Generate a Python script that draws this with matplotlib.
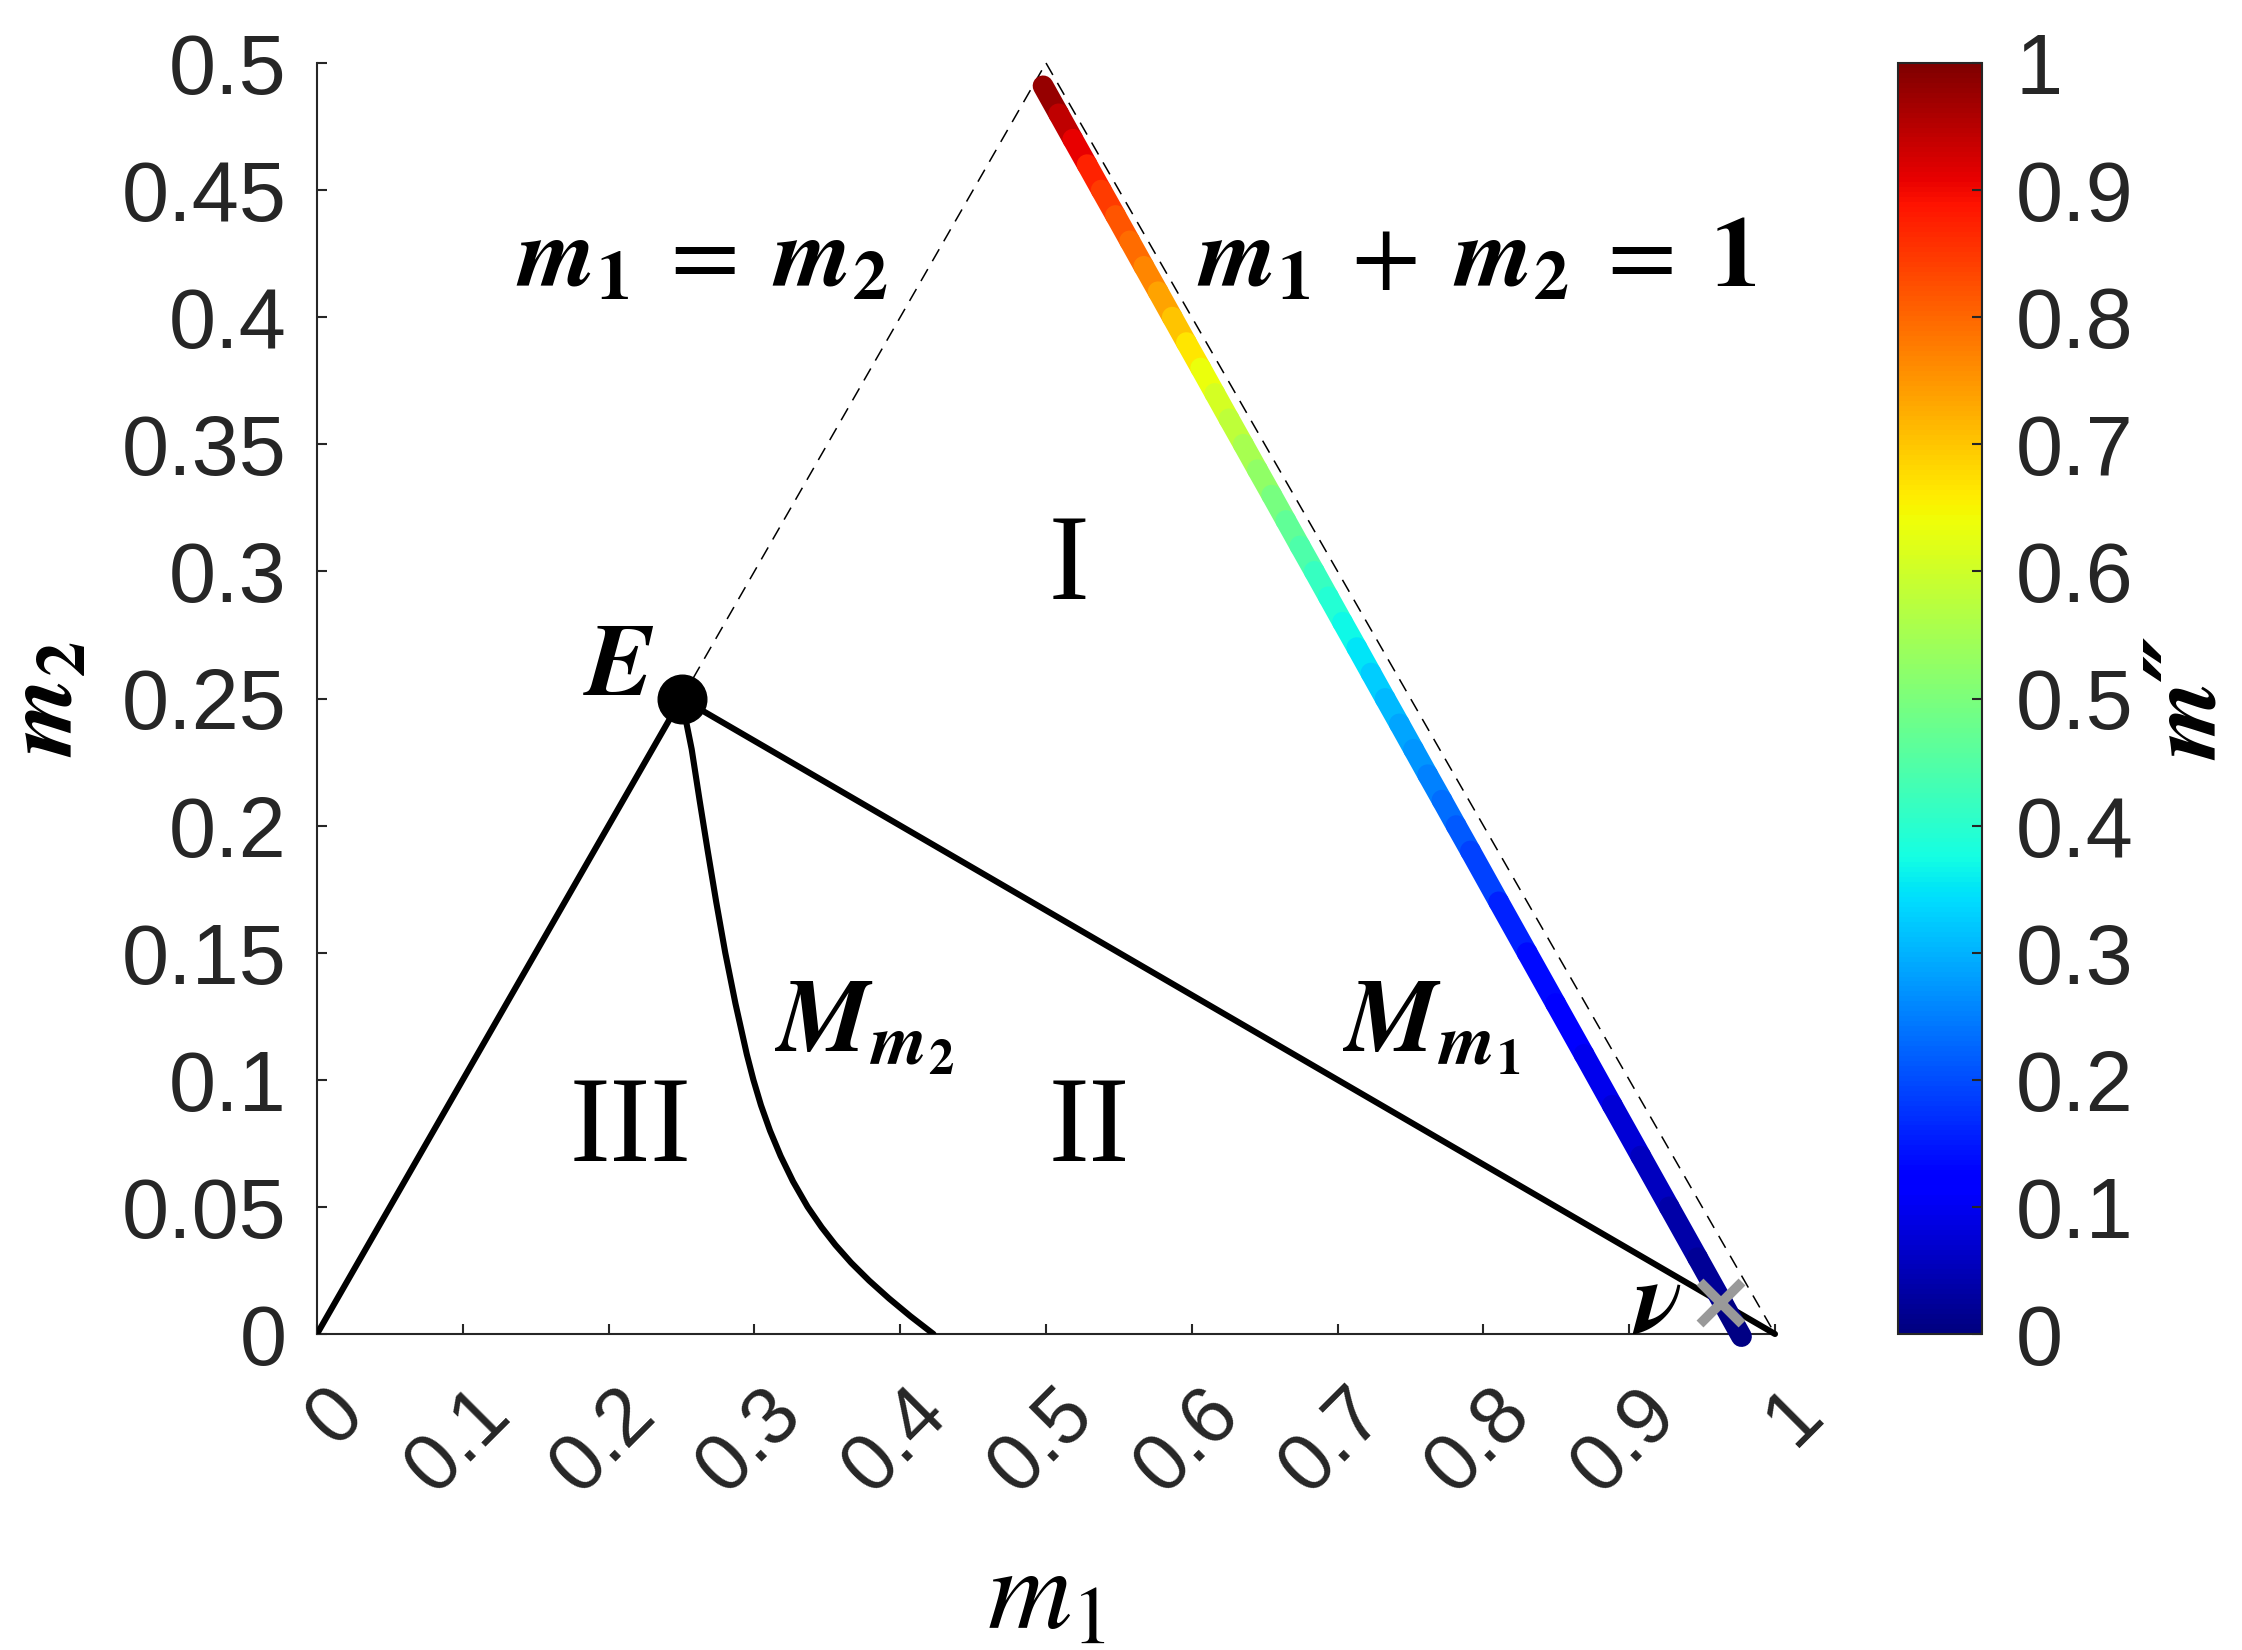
import numpy as np
import matplotlib
matplotlib.use("Agg")
import matplotlib.pyplot as plt
import matplotlib.transforms as mtransforms
from matplotlib.collections import LineCollection
from matplotlib import cm, colors

plt.rcParams['mathtext.fontset'] = 'stix'
plt.rcParams['font.family'] = ['Liberation Sans', 'DejaVu Sans']

# ---------------- data ----------------
x_ticks = [0, 0.1, 0.2, 0.3, 0.4, 0.5, 0.6, 0.7, 0.8, 0.9, 1.0]
x_tick_labels = ['0', '0.1', '0.2', '0.3', '0.4', '0.5', '0.6', '0.7', '0.8', '0.9', '1']
y_ticks = [0, 0.05, 0.1, 0.15, 0.2, 0.25, 0.3, 0.35, 0.4, 0.45, 0.5]
y_tick_labels = ['0', '0.05', '0.1', '0.15', '0.2', '0.25', '0.3', '0.35', '0.4', '0.45', '0.5']
cbar_ticks = [0, 0.1, 0.2, 0.3, 0.4, 0.5, 0.6, 0.7, 0.8, 0.9, 1.0]
cbar_tick_labels = ['0', '0.1', '0.2', '0.3', '0.4', '0.5', '0.6', '0.7', '0.8', '0.9', '1']

# boundary III / I : segment from origin to E
left_m1 = [0.0, 0.25]
left_m2 = [0.0, 0.25]
# M_m1 : segment from E to (1,0)
Mm1_m1 = [0.25, 1.0]
Mm1_m2 = [0.25, 0.0]
# M_m2 : curve from E down to the m1 axis
Mm2_m1 = [0.25, 0.2570, 0.2624, 0.2680, 0.2738, 0.2800, 0.2870, 0.2948, 0.2993,
          0.3045, 0.3107, 0.3180, 0.3265, 0.3365, 0.3461, 0.3556, 0.3664, 0.3787,
          0.3923, 0.4070, 0.4228]
Mm2_m2 = [0.25, 0.23, 0.21, 0.19, 0.17, 0.15, 0.13, 0.11, 0.10,
          0.09, 0.08, 0.07, 0.06, 0.05, 0.042, 0.035, 0.028, 0.021,
          0.014, 0.007, 0.0]
# dashed lines
diag_m1 = [0.25, 0.5]
diag_m2 = [0.25, 0.5]
sum1_m1 = [0.5, 1.0]
sum1_m2 = [0.5, 0.0]
# coloured curve (m1, m2, m'')
curve_m2 = [0.491, 0.48, 0.47, 0.46, 0.45, 0.44, 0.43, 0.42, 0.41, 0.40, 0.39, 0.38,
            0.37, 0.36, 0.35, 0.34, 0.33, 0.32, 0.31, 0.30, 0.29, 0.28, 0.27, 0.26,
            0.25, 0.24, 0.23, 0.22, 0.21, 0.20, 0.19, 0.17, 0.15, 0.13, 0.11, 0.09,
            0.07, 0.05, 0.03, 0.012, -0.001]
curve_m1 = [0.498, 0.5087, 0.5184, 0.5282, 0.5379, 0.5477, 0.5574, 0.5671, 0.5769,
            0.5866, 0.5963, 0.6061, 0.6158, 0.6255, 0.6353, 0.6450, 0.6548, 0.6645,
            0.6742, 0.6840, 0.6937, 0.7034, 0.7132, 0.7229, 0.7326, 0.7424, 0.7521,
            0.7618, 0.7716, 0.7813, 0.7911, 0.8105, 0.8300, 0.8495, 0.8690, 0.8884,
            0.9079, 0.9274, 0.9469, 0.9644, 0.9770]
curve_mpp = [1.0, 0.96, 0.925, 0.89, 0.859, 0.832, 0.806, 0.78, 0.753, 0.718, 0.683,
             0.65, 0.619, 0.592, 0.566, 0.54, 0.51, 0.48, 0.455, 0.43, 0.405, 0.38,
             0.36, 0.337, 0.315, 0.297, 0.28, 0.26, 0.24, 0.222, 0.205, 0.17, 0.145,
             0.122, 0.105, 0.088, 0.067, 0.048, 0.03, 0.012, 0.0]
# special points
E_pt = (0.25, 0.25)
nu_pt = (0.963, 0.0122)

# ---------------- figure ----------------
W, H = 2242, 1650
fig = plt.figure(figsize=(W / 100, H / 100), dpi=100)
ax = fig.add_axes([317 / W, 1 - 1334 / H, (1775 - 317) / W, (1334 - 63) / H])
axcol = '#262626'

ax.set_xlim(0, 1)
ax.set_ylim(0, 0.5)
for s in ['top', 'right']:
    ax.spines[s].set_visible(False)
for s in ['left', 'bottom']:
    ax.spines[s].set_color(axcol)
    ax.spines[s].set_linewidth(1.5)

lw_black = 4.4
ax.plot(left_m1, left_m2, color='black', lw=lw_black, solid_capstyle='round', zorder=3)
ax.plot(Mm1_m1, Mm1_m2, color='black', lw=lw_black, solid_capstyle='round', zorder=3,
        clip_on=False)
ax.plot(Mm2_m1, Mm2_m2, color='black', lw=lw_black, solid_capstyle='round',
        solid_joinstyle='round', zorder=3)
ax.plot(diag_m1, diag_m2, color='black', lw=1.1, dashes=(9, 6), zorder=2, clip_on=False)
ax.plot(sum1_m1, sum1_m2, color='black', lw=1.1, dashes=(9, 6), zorder=2, clip_on=False)

# coloured curve
cmap = matplotlib.colormaps['jet']
norm = colors.Normalize(0, 1)
pts = np.column_stack([curve_m1, curve_m2])
segs = np.stack([pts[:-1], pts[1:]], axis=1)
mid_vals = [(a + b) / 2 for a, b in zip(curve_mpp[:-1], curve_mpp[1:])]
lc = LineCollection(segs, cmap=cmap, norm=norm, linewidths=15, capstyle='round',
                    joinstyle='round', zorder=4, clip_on=False)
lc.set_array(np.array(mid_vals))
ax.add_collection(lc)

# markers
ax.plot([E_pt[0]], [E_pt[1]], 'o', color='black', ms=35, zorder=6, clip_on=False)
ax.plot([nu_pt[0]], [nu_pt[1]], 'x', color='#999999', ms=30, mew=7, zorder=7,
        clip_on=False)

# ticks
ax.set_xticks(x_ticks)
ax.set_xticklabels(x_tick_labels, rotation=45, ha='right', va='top',
                   rotation_mode='anchor')
ax.set_yticks(y_ticks)
ax.set_yticklabels(y_tick_labels)
ax.tick_params(axis='both', direction='in', length=7, width=1.5, colors=axcol,
               labelsize=61, labelcolor=axcol)
ax.tick_params(axis='x', pad=29, labelsize=58)
ax.tick_params(axis='y', pad=22)
off = mtransforms.ScaledTranslation(6 / 72, 0, fig.dpi_scale_trans)
for lbl in ax.get_xticklabels():
    lbl.set_transform(lbl.get_transform() + off)

ax.set_xlabel(r'$m_1$', fontsize=84)
ax.xaxis.set_label_coords(0.5, -0.165)
ax.set_ylabel(r'$\boldsymbol{m}_\mathbf{2}$', fontsize=72, labelpad=20)

# annotations
tk = dict(fontsize=72, color='black', zorder=8)
ax.text(0.2644, 0.412, r'$\boldsymbol{m}_\mathbf{1} \;=\; \boldsymbol{m}_\mathbf{2}$',
        ha='center', va='baseline', **tk)
ax.text(0.7956, 0.412,
        r'$\boldsymbol{m}_\mathbf{1} \;+\; \boldsymbol{m}_\mathbf{2} \;=\; \mathbf{1}$',
        ha='center', va='baseline', **tk)
tm = dict(fontsize=74, color='black', zorder=8)
ax.text(0.314, 0.111, r'$\boldsymbol{M}_{\boldsymbol{m}_\mathbf{2}}$',
        ha='left', va='baseline', **tm)
ax.text(0.704, 0.111, r'$\boldsymbol{M}_{\boldsymbol{m}_\mathbf{1}}$',
        ha='left', va='baseline', **tm)
ax.text(0.2068, 0.2514, r'$\boldsymbol{E}$', ha='center', va='baseline', **tm)
ax.text(0.919, 0.0004, r'$\boldsymbol{\nu}$', ha='center', va='baseline', **tm)

rk = dict(fontsize=88, color='black', family='Liberation Serif', zorder=8)
ax.text(0.516, 0.289, 'I', ha='center', va='baseline', **rk)
ax.text(0.5295, 0.068, 'II', ha='center', va='baseline', **rk)
ax.text(0.2154, 0.068, 'III', ha='center', va='baseline', **rk)

# colorbar
cax = fig.add_axes([1898 / W, 1 - 1334 / H, (1982 - 1898) / W, (1334 - 63) / H])
sm = cm.ScalarMappable(norm=norm, cmap=cmap)
cb = fig.colorbar(sm, cax=cax)
cb.set_ticks(cbar_ticks)
cb.set_ticklabels(cbar_tick_labels)
cb.outline.set_edgecolor(axcol)
cb.outline.set_linewidth(1.5)
cax.tick_params(direction='in', length=7, width=1.5, colors=axcol, labelsize=61,
                labelcolor=axcol, pad=24)
cb.set_label('m\u2033', fontsize=72, labelpad=10,
             family=['STIXGeneral', 'DejaVu Serif', 'DejaVu Sans'],
             style='italic', weight='bold')

fig.savefig('out.png', dpi=100, facecolor='white')
